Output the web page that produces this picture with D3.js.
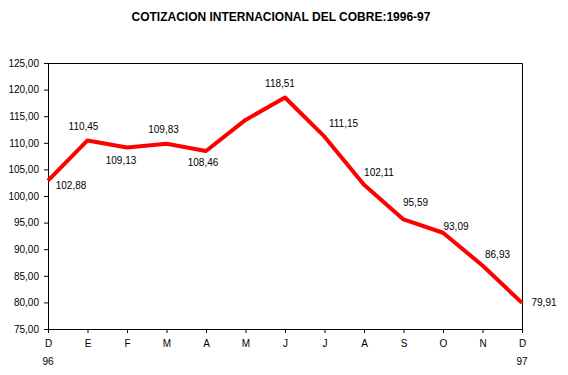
<!DOCTYPE html>
<html>
<head>
<meta charset="utf-8">
<script src="https://cdn.jsdelivr.net/npm/d3@7"></script>
<style>
  body { margin: 0; background: #fff; }
  text { font-family: "Liberation Sans", Arial, sans-serif; font-size: 10px; fill: #000; }
  .title { font-family: "Liberation Sans Narrow", "Liberation Sans", Arial, sans-serif; font-weight: bold; font-size: 12px; }
</style>
</head>
<body>
<div id="wrapper"></div>
<script>
// data
const months = ['D', 'E', 'F', 'M', 'A', 'M', 'J', 'J', 'A', 'S', 'O', 'N', 'D']
const years = ['96', '', '', '', '', '', '', '', '', '', '', '', '97']
const prices = [102.88, 110.45, 109.13, 109.83, 108.46, 114.3, 118.51, 111.15, 102.11, 95.59, 93.09, 86.93, 79.91]
const showLabel = [true, true, true, true, true, false, true, true, true, true, true, true, true]
const yTicks = d3.range(75, 126, 5)

// label placement relative to each point (dx, dy of text centre)
const labelOffsets = [
  [23, 5], [-4, -14], [-6, 13], [-3, -14], [-3, 12], [0, 0],
  [-5, -14], [19, -13], [15, -12], [12, -17], [13, -6], [15, -11], [22, 0]
]

const dimensions = {
  width: 568,
  height: 375,
  margin: { top: 63, right: 46, bottom: 46, left: 48 }
}
dimensions.boundedWidth = dimensions.width - dimensions.margin.left - dimensions.margin.right
dimensions.boundedHeight = dimensions.height - dimensions.margin.top - dimensions.margin.bottom

const svg = d3.select("#wrapper")
  .append("svg")
    .attr("width", dimensions.width)
    .attr("height", dimensions.height)

const bounds = svg.append("g")
    .attr("transform", `translate(${dimensions.margin.left}, ${dimensions.margin.top})`)

// scales
const xScale = d3.scalePoint()
  .domain(d3.range(months.length))
  .range([0, dimensions.boundedWidth])

const yScale = d3.scaleLinear()
  .domain([75, 125])
  .range([dimensions.boundedHeight, 0])

const locale = d3.formatLocale({ decimal: ",", thousands: ".", grouping: [3], currency: ["", ""] })
const fmt = locale.format(".2f")

// title
svg.append("text")
    .attr("class", "title")
    .attr("x", 281)
    .attr("y", 21)
    .attr("text-anchor", "middle")
    .text("COTIZACION INTERNACIONAL DEL COBRE:1996-97")

// frame (top + right)
bounds.append("path")
    .attr("d", `M0,0.5H${dimensions.boundedWidth + 0.5}V${dimensions.boundedHeight}`)
    .attr("fill", "none")
    .attr("stroke", "#000")

// y axis
const yAxis = bounds.append("g")
    .call(d3.axisLeft(yScale).tickValues(yTicks).tickFormat(fmt).tickSize(4).tickPadding(5))
yAxis.select(".domain").attr("d", `M0.5,${dimensions.boundedHeight}V0`)
yAxis.selectAll("text").style("font-size", "10px").style("font-family", "'Liberation Sans', Arial, sans-serif")

// x axis
const xAxis = bounds.append("g")
    .attr("transform", `translate(0, ${dimensions.boundedHeight})`)
    .call(d3.axisBottom(xScale).tickFormat(i => months[i]).tickSize(4).tickPadding(7))
xAxis.select(".domain").attr("d", `M0,0.5H${dimensions.boundedWidth + 0.5}`)
xAxis.selectAll("text").style("font-size", "10px").style("font-family", "'Liberation Sans', Arial, sans-serif")

bounds.append("g")
  .selectAll("text")
  .data(years)
  .join("text")
    .attr("x", (d, i) => xScale(i))
    .attr("y", dimensions.boundedHeight + 36)
    .attr("text-anchor", "middle")
    .text(d => d)

// line
const lineGenerator = d3.line()
  .x((d, i) => xScale(i))
  .y(d => yScale(d))

bounds.append("path")
    .datum(prices)
    .attr("d", lineGenerator)
    .attr("fill", "none")
    .attr("stroke", "#ff0000")
    .attr("stroke-width", 4)
    .attr("stroke-linejoin", "round")

// data labels
bounds.append("g")
  .selectAll("text")
  .data(prices.map((v, i) => ({ v, i })).filter(d => showLabel[d.i]))
  .join("text")
    .attr("x", d => xScale(d.i) + labelOffsets[d.i][0])
    .attr("y", d => yScale(d.v) + labelOffsets[d.i][1] + 3.5)
    .attr("text-anchor", "middle")
    .text(d => fmt(d.v))
</script>
</body>
</html>
